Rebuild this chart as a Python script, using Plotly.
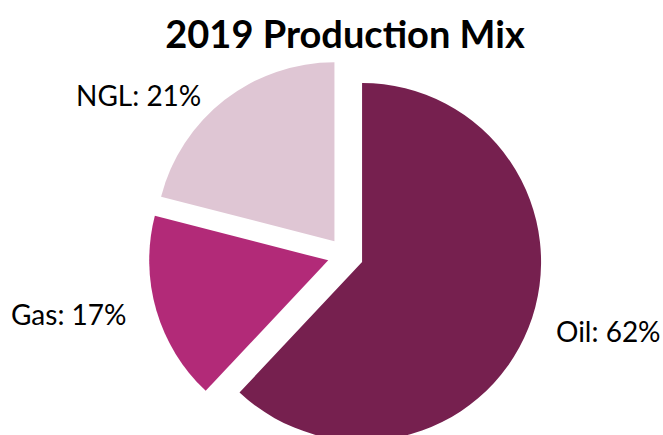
import plotly.graph_objects as go

# 2019 production mix by product
products = ["Oil", "Gas", "NGL"]
shares = [62, 17, 21]
colors = ["#76204F", "#B22A78", "#DFC6D4"]

W, H = 663, 470

fig = go.Figure(
    go.Pie(
        labels=products,
        values=shares,
        sort=False,
        direction="clockwise",
        rotation=0,
        pull=[0.1, 0.1, 0.1],
        marker=dict(colors=colors, line=dict(width=0)),
        textinfo="none",
        hoverinfo="label+percent",
        domain=dict(x=[0.171, 0.871], y=[0.0377, 0.8756]),
        showlegend=False,
    )
)

# slice captions placed around the pie
label_pos = {"Oil": (608, 331), "Gas": (69, 314), "NGL": (138, 95)}
for name, val in zip(products, shares):
    px, py = label_pos[name]
    fig.add_annotation(
        x=px / W, y=1 - py / H, xref="paper", yref="paper",
        text=f"{name}: {val}%", showarrow=False,
        xanchor="center", yanchor="middle",
        font=dict(family="Lato", size=28, color="#000000"),
    )

fig.update_layout(
    width=W,
    height=H,
    margin=dict(l=0, r=0, t=0, b=0),
    paper_bgcolor="white",
    plot_bgcolor="white",
    title=dict(
        text="<b>2019 Production Mix</b>",
        x=345 / W, xanchor="center",
        y=1 - 35 / H, yanchor="middle",
        font=dict(family="Lato", size=38, color="#000000"),
    ),
)

fig.write_html(
    "out.html",
    post_script="document.documentElement.style.overflow='hidden';document.body.style.overflow='hidden';",
)
